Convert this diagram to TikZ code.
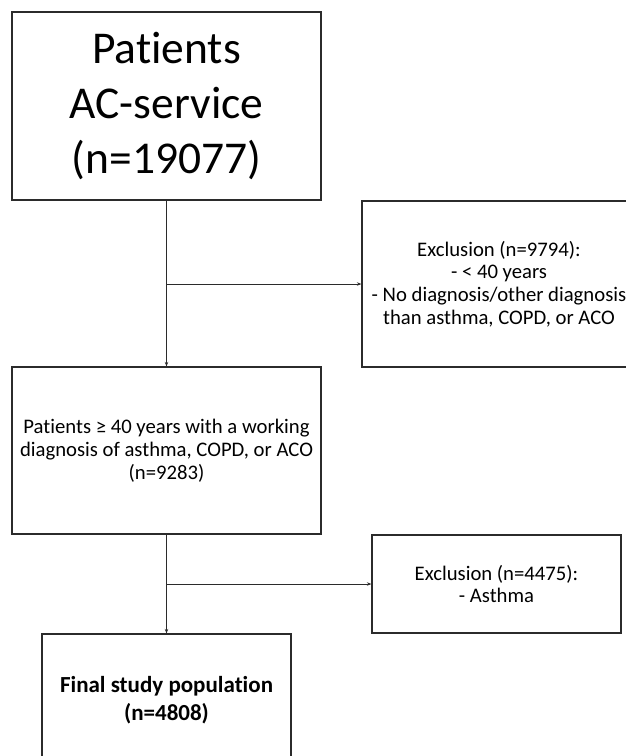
\documentclass[tikz,border=0pt]{standalone}
\usepackage{fontspec}
\setmainfont{Carlito}[Ligatures={NoCommon}]
\usetikzlibrary{arrows.meta}
\definecolor{boxline}{HTML}{2B2B2B}
\tikzset{
  flowbox/.style={draw=boxline, line width=1.2pt, align=center, inner sep=0pt,
    font=\fontsize{20.7}{22.8}\selectfont},
  bigbox/.style={flowbox, font=\fontsize{45.5}{55}\selectfont},
  flowline/.style={draw=boxline, line width=0.9pt, -{Stealth[length=4.5pt,width=3.5pt]}}
}
\begin{document}
\begin{tikzpicture}[x=1pt,y=-1pt]
\useasboundingbox (0,0) rectangle (626,756);
\fill[white] (0,0) rectangle (626,756);
\clip (0,0) rectangle (626,756);
\node[bigbox, minimum width=309pt, minimum height=188pt] (start) at (166.5,106)
  {Patients\\AC-service\\(n=19077)};
\node[flowbox, minimum width=309pt, minimum height=167pt] (eligible) at (166.5,450.5)
  {Patients ≥ 40 years with a working\\diagnosis of asthma, COPD, or ACO\\(n=9283)};
\node[flowbox, minimum width=274pt, minimum height=166pt] (excl1) at (499,284)
  {Exclusion (n=9794):\\- < 40 years\\- No diagnosis/other diagnosis\\than asthma, COPD, or ACO};
\node[flowbox, minimum width=249pt, minimum height=98pt] (excl2) at (496.5,584)
  {Exclusion (n=4475):\\- Asthma};
\node[flowbox, minimum width=249pt, minimum height=132pt, font=\fontsize{23}{28}\selectfont\bfseries] (final) at (166.5,700)
  {Final study population\\(n=4808)};
\coordinate (b1) at (start.south |- excl1.west);
\coordinate (b2) at (eligible.south |- excl2.west);
\draw[flowline] (start.south) -- (eligible.north);
\draw[flowline] (b1) -- (excl1.west);
\draw[flowline] (eligible.south) -- (final.north);
\draw[flowline] (b2) -- (excl2.west);
\end{tikzpicture}
\end{document}
